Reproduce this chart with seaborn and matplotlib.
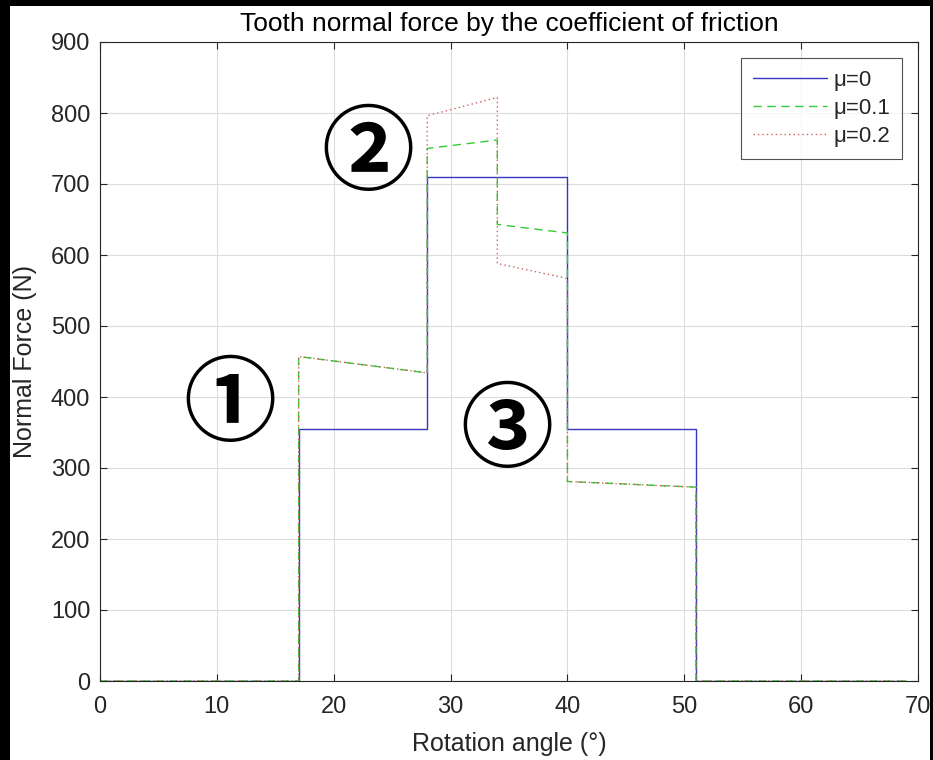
import matplotlib
matplotlib.use("Agg")
import matplotlib.pyplot as plt
from matplotlib.patches import Rectangle
import seaborn as sns
import pandas as pd

# ---- data ----
series_labels = ["μ=0", "μ=0.1", "μ=0.2"]
angle_mu0 = [0, 17, 17, 28, 28, 40, 40, 51, 51, 69]
force_mu0 = [0, 0, 355, 355, 710, 710, 355, 355, 0, 0]
angle_mu01 = [0, 17, 17, 28, 28, 34, 34, 40, 40, 51, 51, 69]
force_mu01 = [0, 0, 457, 434, 750, 762, 643, 631, 281, 273, 0, 0]
angle_mu02 = [0, 17, 17, 28, 28, 34, 34, 40, 40, 51, 51, 69]
force_mu02 = [0, 0, 457, 434, 796, 822, 588, 567, 281, 273, 0, 0]
x_ticks = [0, 10, 20, 30, 40, 50, 60, 70]
y_ticks = [0, 100, 200, 300, 400, 500, 600, 700, 800, 900]
annotations = ["①", "②", "③"]
annotation_pos = [(11.1, 387), (22.9, 741), (34.8, 350)]

sns.set_theme(style="white")
plt.rcParams["font.family"] = ["Liberation Sans", "DejaVu Sans"]

fig = plt.figure(figsize=(9.33, 7.6), dpi=100, facecolor="black")
fig.patches.append(Rectangle((10 / 933, 0), (930 - 10) / 933, (760 - 6) / 760,
                             transform=fig.transFigure, facecolor="white",
                             edgecolor="none", zorder=-10))
ax = fig.add_axes([100 / 933, 1 - 681 / 760, (918 - 100) / 933, (681 - 42) / 760])
ax.set_facecolor("white")

styles = [("#3636c0", "-"), ("#33cc33", (0, (6, 4))), ("#d06060", (0, (1, 2.2)))]
data = [(angle_mu0, force_mu0), (angle_mu01, force_mu01), (angle_mu02, force_mu02)]
for (xs, ys), lab, (col, ls) in zip(data, series_labels, styles):
    df = pd.DataFrame({"angle": xs, "force": ys})
    sns.lineplot(data=df, x="angle", y="force", sort=False, estimator=None,
                 color=col, linestyle=ls, linewidth=1.0, label=lab, ax=ax)

ax.set_xlim(0, 70)
ax.set_ylim(0, 900)
ax.set_xticks(x_ticks)
ax.set_yticks(y_ticks)
ax.grid(True, color="#dcdcdc", linewidth=0.8)
ax.tick_params(direction="in", length=5, top=True, right=True, bottom=True, left=True,
               labelsize=17, colors="#262626", width=0.8)
ax.tick_params(axis="x", pad=11)
ax.tick_params(axis="y", pad=7)
for s in ax.spines.values():
    s.set_color("#262626")
    s.set_linewidth(0.8)

ax.set_xlabel("Rotation angle (°)", fontsize=18, color="#262626", labelpad=10)
ax.set_ylabel("Normal Force (N)", fontsize=18, color="#262626", labelpad=10)
ax.set_title("Tooth normal force by the coefficient of friction", fontsize=19,
             color="black", pad=8)

leg = ax.legend(loc="upper right", fontsize=16, frameon=True, fancybox=False,
                borderaxespad=0.7, handlelength=3.3, labelspacing=0.32,
                borderpad=0.55, handletextpad=0.3)
leg.get_frame().set_edgecolor("#262626")
leg.get_frame().set_linewidth(0.8)

for txt, (xv, yv) in zip(annotations, annotation_pos):
    ax.text(xv, yv, txt, fontsize=67, fontweight="heavy", ha="center", va="center",
            family=["Noto Sans CJK KR", "DejaVu Sans"], color="black")

fig.savefig("out.png", dpi=100, facecolor=fig.get_facecolor())
